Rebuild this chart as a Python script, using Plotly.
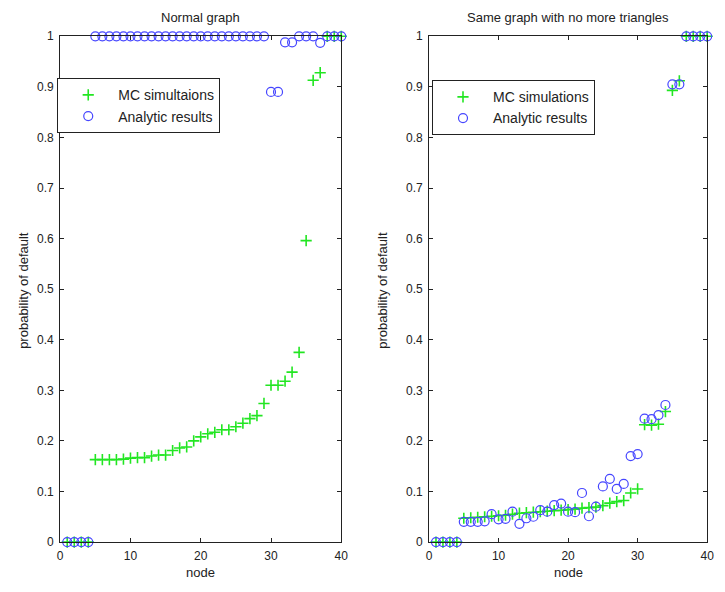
import plotly.graph_objects as go

nodes = list(range(1, 41))

left_mc = [0, 0, 0, 0,
           0.163, 0.163, 0.163, 0.163, 0.164, 0.166, 0.167, 0.167, 0.170, 0.172,
           0.172, 0.181, 0.186, 0.188, 0.200, 0.208, 0.214, 0.217, 0.222, 0.222,
           0.228, 0.235, 0.244, 0.250, 0.274, 0.310, 0.310, 0.318, 0.336, 0.375,
           0.596, 0.913, 0.928, 1.0, 1.0, 1.0]
left_an = [0, 0, 0, 0] + [1.0] * 25 + [0.89, 0.89, 0.988, 0.988, 1.0, 1.0, 1.0, 0.987, 1.0, 1.0, 1.0]

right_mc = [0, 0, 0, 0,
            0.047, 0.048, 0.049, 0.050, 0.051, 0.052, 0.053, 0.055, 0.057, 0.058,
            0.059, 0.060, 0.061, 0.062, 0.063, 0.064, 0.065, 0.067, 0.068, 0.069,
            0.072, 0.077, 0.080, 0.082, 0.097, 0.105, 0.232, 0.231, 0.233, 0.258,
            0.893, 0.912, 1.0, 1.0, 1.0, 1.0]
right_an = [0, 0, 0, 0,
            0.040, 0.040, 0.040, 0.041, 0.055, 0.045, 0.046, 0.060, 0.036, 0.047,
            0.050, 0.063, 0.060, 0.073, 0.076, 0.060, 0.059, 0.097, 0.051, 0.070,
            0.110, 0.125, 0.105, 0.115, 0.170, 0.174, 0.244, 0.243, 0.251, 0.271,
            0.905, 0.905, 1.0, 1.0, 1.0, 1.0]

titles = ["Normal graph", "Same graph with no more triangles"]
left_names = ["MC simultaions", "Analytic results"]
right_names = ["MC simulations", "Analytic results"]
x_label = "node"
y_label = "probability of default"
x_ticks = [0, 10, 20, 30, 40]
y_ticks = [0, 0.1, 0.2, 0.3, 0.4, 0.5, 0.6, 0.7, 0.8, 0.9, 1]
y_tick_text = ["0", "0.1", "0.2", "0.3", "0.4", "0.5", "0.6", "0.7", "0.8", "0.9", "1"]

W, H = 725, 592
GREEN = "#22e622"
BLUE = "#4646ff"
INK = "#222222"
FONT = "Liberation Sans, Arial, sans-serif"

fig = go.Figure()


def add_pair(mc, an, names, xa, ya, legend):
    fig.add_trace(go.Scatter(x=nodes, y=mc, mode="markers", name=names[0],
                             xaxis=xa, yaxis=ya, legend=legend, cliponaxis=False,
                             marker=dict(symbol="cross-thin-open", size=8, color=GREEN,
                                         line=dict(color=GREEN, width=1.6))))
    fig.add_trace(go.Scatter(x=nodes, y=an, mode="markers", name=names[1],
                             xaxis=xa, yaxis=ya, legend=legend, cliponaxis=False,
                             marker=dict(symbol="circle-open", size=9, color=BLUE,
                                         line=dict(color=BLUE, width=1.2))))


add_pair(left_mc, left_an, left_names, "x", "y", "legend")
add_pair(right_mc, right_an, right_names, "x2", "y2", "legend2")

axis_common = dict(showline=True, linecolor=INK, linewidth=1, mirror="ticks",
                   ticks="inside", ticklen=4, tickcolor=INK, showgrid=False,
                   zeroline=False, tickfont=dict(size=12, color=INK, family=FONT))

LX = [58, 343]
RX = [432, 714]
ydom = [1 - 548 / H, 1 - 30 / H]
fig.update_layout(
    width=W, height=H, margin=dict(l=0, r=0, t=0, b=0),
    paper_bgcolor="white", plot_bgcolor="white",
    font=dict(family=FONT, size=12, color=INK),
    xaxis=dict(domain=[LX[0] / W, LX[1] / W], range=[0, 40], tickvals=x_ticks,
               ticklabelstandoff=3, anchor="y", **axis_common),
    yaxis=dict(domain=ydom, range=[0, 1], tickvals=y_ticks, ticktext=y_tick_text,
               ticklabelstandoff=3, anchor="x", **axis_common),
    xaxis2=dict(domain=[RX[0] / W, RX[1] / W], range=[0, 40], tickvals=x_ticks,
                ticklabelstandoff=3, anchor="y2", **axis_common),
    yaxis2=dict(domain=ydom, range=[0, 1], tickvals=y_ticks, ticktext=y_tick_text,
                ticklabelstandoff=3, anchor="x2", **axis_common),
    legend=dict(x=55 / W, y=1 - 73 / H, xanchor="left", yanchor="top",
                bordercolor=INK, borderwidth=1, bgcolor="white",
                font=dict(size=14, family=FONT, color=INK), itemwidth=50, tracegroupgap=0),
    legend2=dict(x=435 / W, y=1 - 75 / H, xanchor="left", yanchor="top",
                 bordercolor=INK, borderwidth=1, bgcolor="white",
                 font=dict(size=14, family=FONT, color=INK), itemwidth=50, tracegroupgap=0),
    showlegend=True,
)

for i, t in enumerate(titles):
    xr = LX if i == 0 else RX
    cx = (xr[0] + xr[1]) / 2 / W
    fig.add_annotation(text=t, x=cx, y=1 - 11 / H, xref="paper", yref="paper",
                       showarrow=False, font=dict(size=13, family=FONT, color=INK),
                       xanchor="center", yanchor="middle")
    fig.add_annotation(text=x_label, x=cx, y=1 - 579 / H, xref="paper", yref="paper",
                       showarrow=False, font=dict(size=13, family=FONT, color=INK),
                       xanchor="center", yanchor="middle")
    lx = 20 if i == 0 else 384
    fig.add_annotation(text=y_label, x=lx / W, y=1 - 290 / H, xref="paper", yref="paper",
                       showarrow=False, textangle=-90,
                       font=dict(size=13, family=FONT, color=INK),
                       xanchor="center", yanchor="middle")

fig.write_html("out.html")
